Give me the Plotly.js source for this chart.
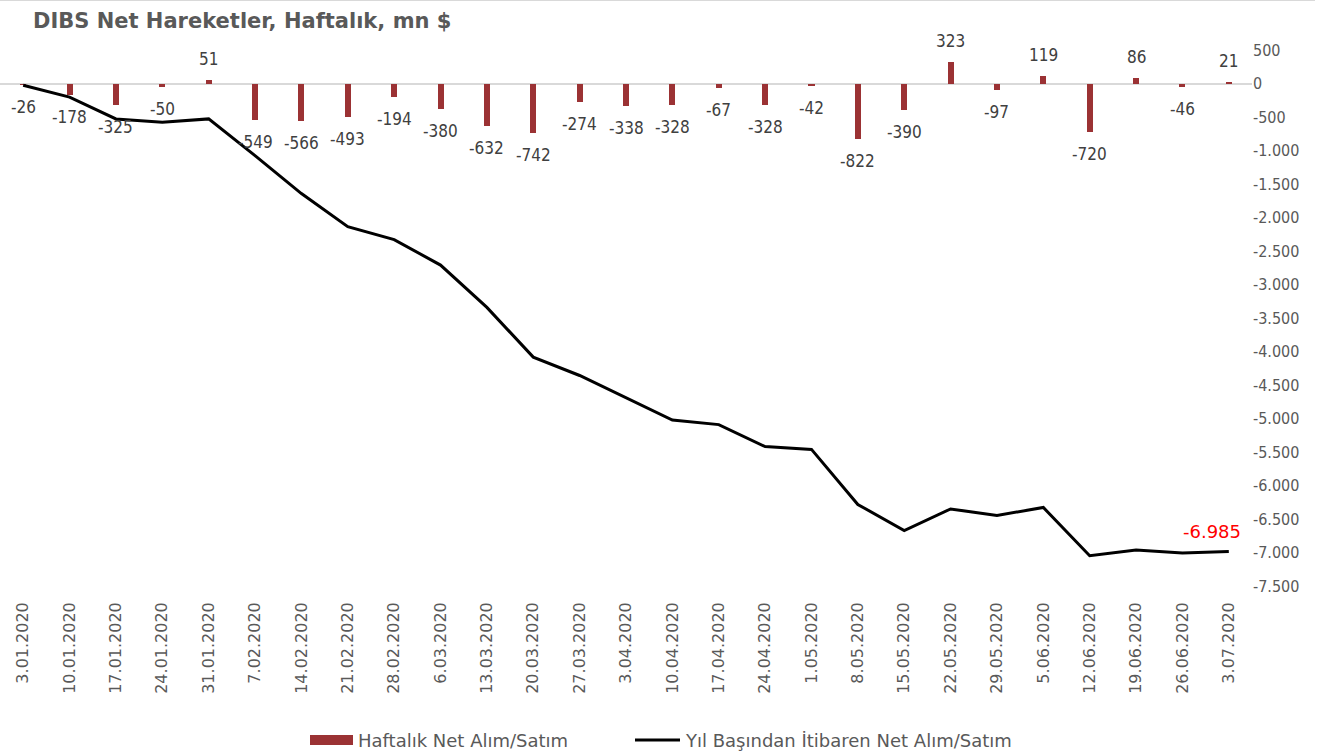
<!DOCTYPE html>
<html>
<head>
<meta charset="utf-8">
<script src="https://cdn.plot.ly/plotly-3.0.1.min.js"></script>
<style>html,body{margin:0;padding:0;background:#fff;}#chart{width:1338px;height:754px;}</style>
</head>
<body>
<div id="chart"></div>
<script>
const dates = ["3.01.2020","10.01.2020","17.01.2020","24.01.2020","31.01.2020","7.02.2020","14.02.2020","21.02.2020","28.02.2020","6.03.2020","13.03.2020","20.03.2020","27.03.2020","3.04.2020","10.04.2020","17.04.2020","24.04.2020","1.05.2020","8.05.2020","15.05.2020","22.05.2020","29.05.2020","5.06.2020","12.06.2020","19.06.2020","26.06.2020","3.07.2020"];
const weekly = [-26,-178,-325,-50,51,-549,-566,-493,-194,-380,-632,-742,-274,-338,-328,-67,-328,-42,-822,-390,323,-97,119,-720,86,-46,21];
const cumulative = [-26,-204,-529,-579,-528,-1077,-1643,-2136,-2330,-2710,-3342,-4084,-4358,-4696,-5024,-5091,-5419,-5461,-6283,-6673,-6350,-6447,-6328,-7048,-6962,-7008,-6985];
const yTickVals = [500,0,-500,-1000,-1500,-2000,-2500,-3000,-3500,-4000,-4500,-5000,-5500,-6000,-6500,-7000,-7500];
const yTickText = ["500","0","-500","-1.000","-1.500","-2.000","-2.500","-3.000","-3.500","-4.000","-4.500","-5.000","-5.500","-6.000","-6.500","-7.000","-7.500"];
const seriesNames = ["Haftalık Net Alım/Satım","Yıl Başından İtibaren Net Alım/Satım"];
const lastLabel = "-6.985";

const FONT = "DejaVu Sans, Verdana, sans-serif";
const FONTC = "DejaVu Sans Condensed, DejaVu Sans, sans-serif";
const BAR_COLOR = "#9b3234";
const traces = [
  {
    type: "bar", x: dates, y: weekly, name: seriesNames[0],
    marker: {color: BAR_COLOR}, width: 0.13,
    cliponaxis: false, showlegend: false
  },
  {
    type: "scatter", mode: "lines", x: dates, y: cumulative, name: seriesNames[1],
    line: {color: "#000000", width: 3}, showlegend: false
  }
];
const W = 1338, H = 754, ML = 0, MR = 86, MT = 50, MB = 168;
const PW = W - ML - MR, PH = H - MT - MB;
const px = x => (x - ML) / PW;
const py = y => (H - MB - y) / PH;

const barLabels = weekly.map((v, i) => ({
  x: dates[i], y: v, text: String(v), showarrow: false,
  xanchor: "center", yanchor: "middle", yshift: v >= 0 ? 21 : -22,
  font: {family: FONTC, size: 17, color: "#404040"}
}));

const layout = {
  width: W, height: H,
  margin: {l: ML, r: MR, t: MT, b: MB},
  paper_bgcolor: "#ffffff", plot_bgcolor: "#ffffff",
  font: {family: FONT, color: "#595959", size: 16},
  title: {text: "<b>DIBS Net Hareketler, Haftalık, mn $</b>", font: {family: FONT, size: 21, color: "#595959"},
          xref: "container", yref: "container", x: 33/W, xanchor: "left", y: 1 - 21/H, yanchor: "middle"},
  bargap: 0,
  showlegend: false,
  xaxis: {type: "category", range: [-0.5, 26.5], tickangle: -90, showgrid: false, showline: false, ticks: "",
          ticklabelstandoff: 12,
          tickfont: {family: FONT, size: 16, color: "#595959"}, automargin: false},
  yaxis: {side: "right", range: [-7500, 500], tickmode: "array", tickvals: yTickVals, ticktext: yTickText,
          showgrid: false, zeroline: true, zerolinecolor: "#d9d9d9", zerolinewidth: 2, showline: false, ticks: "",
          tickfont: {family: FONTC, size: 16, color: "#595959"}, automargin: false},
  annotations: barLabels.concat([
    {x: dates[dates.length-1], y: cumulative[cumulative.length-1], text: lastLabel, showarrow: false,
     xanchor: "right", xshift: 14, yshift: 20, font: {family: FONT, size: 18, color: "#ff0000"}},
    {xref: "paper", yref: "paper", x: px(356), y: py(740), xanchor: "left", yanchor: "middle", showarrow: false,
     text: seriesNames[0], font: {family: FONT, size: 18, color: "#595959"}},
    {xref: "paper", yref: "paper", x: px(683), y: py(740), xanchor: "left", yanchor: "middle", showarrow: false,
     text: seriesNames[1], font: {family: FONT, size: 18, color: "#595959"}}
  ]),
  shapes: [
    {type: "line", xref: "paper", yref: "paper", x0: 0, x1: px(1315), y0: py(0.5), y1: py(0.5),
     line: {color: "#d9d9d9", width: 1}},
    {type: "rect", xref: "paper", yref: "paper", x0: px(310), x1: px(353), y0: py(745), y1: py(735),
     fillcolor: BAR_COLOR, line: {width: 0}},
    {type: "line", xref: "paper", yref: "paper", x0: px(635), x1: px(680), y0: py(740), y1: py(740),
     line: {color: "#000000", width: 3}}
  ]
};
Plotly.newPlot("chart", traces, layout, {displayModeBar: false, staticPlot: true});
</script>
</body>
</html>
